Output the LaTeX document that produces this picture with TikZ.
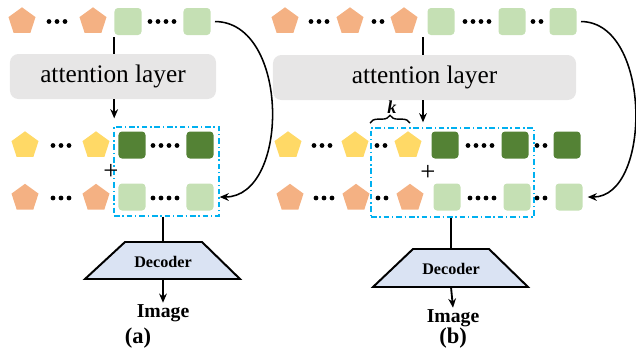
\documentclass[tikz,border=0pt]{standalone}
\usepackage{fontspec}
\setmainfont{Liberation Serif}
\usetikzlibrary{shapes.geometric,arrows.meta,decorations.pathreplacing}

\definecolor{tokorange}{HTML}{F4B183}
\definecolor{tokyellow}{HTML}{FFD966}
\definecolor{toklight}{HTML}{C5E0B4}
\definecolor{tokdark}{HTML}{548235}
\definecolor{attgray}{HTML}{E7E6E6}
\definecolor{decblue}{HTML}{DAE3F3}
\definecolor{boxcyan}{HTML}{00B0F0}

\tikzset{
    pent/.style={regular polygon, regular polygon sides=5, inner sep=0pt, minimum size=0.71cm},
    opent/.style={pent, fill=tokorange},
    ypent/.style={pent, fill=tokyellow},
    tok/.style={rounded corners=2.5pt, inner sep=0pt, minimum size=0.675cm},
    ltok/.style={tok, fill=toklight},
    dtok/.style={tok, fill=tokdark},
    attn/.style={fill=attgray, rounded corners=6pt, minimum height=1.125cm, font=\fontsize{18}{20}\selectfont},
    cbox/.style={draw=boxcyan, line width=0.9pt, dash pattern=on 4pt off 2pt on 1pt off 2pt, minimum height=2.225cm},
    decshape/.style={draw, line width=1.4pt, line join=miter, fill=decblue},
    dectext/.style={inner sep=1pt, font=\fontsize{11.5}{13}\selectfont\bfseries},
    conn/.style={line width=1.3pt},
    arr/.style={-{Stealth[length=6.5pt,width=5.5pt]}, line width=1.3pt},
    lbl/.style={inner sep=1pt, font=\fontsize{14}{16}\selectfont\bfseries},
    plus/.style={font=\fontsize{19}{20}\selectfont}
}

\begin{document}
\begin{tikzpicture}[x=0.025cm,y=-0.025cm]
    \useasboundingbox (0,0) rectangle (636,351);

    % (a)
    \node[opent] (pa1) at (22,21.5) {};
    \node[opent] (pa2) at (93,21.5) {};
    \node[ltok] (ta1) at (128,21.5) {};
    \node[ltok] (ta2) at (197,21.5) {};
    \node[attn, minimum width=5.15cm] (attna) at (113,76.5) {attention layer};
    \node[ypent] (ya1) at (25,145.5) {};
    \node[ypent] (ya2) at (96,145.5) {};
    \node[dtok] (da1) at (132,145) {};
    \node[dtok] (da2) at (200,145) {};
    \node[opent] (oa1) at (25,198) {};
    \node[opent] (oa2) at (96,198) {};
    \node[ltok] (la1) at (132,197) {};
    \node[ltok] (la2) at (200,197) {};
    \node[cbox, minimum width=2.625cm] (boxa) at (166.5,171.5) {};
    \node[plus] (plusa) at (111,172) {+};
    \draw[decshape] (125,242) -- (202,242) -- (240,279) -- (85,279) -- cycle;
    \coordinate (decatop) at (163,242);
    \coordinate (decabot) at (163,279);
    \node[dectext] (deca) at (163,261.5) {Decoder};
    \node[lbl] (imga) at (163,313) {Image};
    \node[lbl, font=\fontsize{16}{18}\selectfont\bfseries] (capa) at (138,338) {(a)};

    \draw[conn] ([yshift=-1.5pt]ta1.south west) -- (ta1.south west |- attna.north);
    \draw[arr] (attna.south -| ta1.west) -- ++(0,19);
    \draw[conn] (boxa.south -| decatop) -- (decatop);
    \draw[arr] (decabot) -- (imga.north);
    \draw[arr, line width=1.1pt, shorten <=3pt] (ta2.east) .. controls (290,22) and (290,197) .. (boxa.east |- la2.east);

    % (b)
    \node[opent] (pb1) at (285,21.5) {};
    \node[opent] (pb2) at (350,21.5) {};
    \node[opent] (pb3) at (404,21.5) {};
    \node[ltok] (tb1) at (441,21.5) {};
    \node[ltok] (tb2) at (512,21.5) {};
    \node[ltok] (tb3) at (563,21.5) {};
    \node[attn, minimum width=7.575cm] (attnb) at (424.5,77.5) {attention layer};
    \node[ypent] (yb1) at (288,145.5) {};
    \node[ypent] (yb2) at (355,145.5) {};
    \node[ypent] (yb3) at (408,145.5) {};
    \node[dtok] (db1) at (445,145) {};
    \node[dtok] (db2) at (515,145) {};
    \node[dtok] (db3) at (567,145) {};
    \node[opent] (ob1) at (290,198) {};
    \node[opent] (ob2) at (356,198) {};
    \node[opent] (ob3) at (410,198) {};
    \node[ltok] (lb1) at (447,197) {};
    \node[ltok] (lb2) at (517,197) {};
    \node[ltok] (lb3) at (569,197) {};
    \node[cbox, minimum width=4.075cm] (boxb) at (452.5,172.5) {};
    \node[plus] (plusb) at (428,172.5) {+};
    \draw[line width=1pt, decorate, decoration={brace, amplitude=5.5pt}] (370,123) -- (410,123);
    \node[font=\fontsize{13}{15}\selectfont\bfseries\itshape] (kb) at (392,107) {k};
    \draw[decshape] (413,249) -- (489,249) -- (528,287) -- (373,287) -- cycle;
    \coordinate (decbtop) at (451,249);
    \coordinate (decbbot) at (451,287);
    \node[dectext] (decb) at (451,269) {Decoder};
    \node[lbl] (imgb) at (453,318) {Image};
    \node[lbl, font=\fontsize{16}{18}\selectfont\bfseries] (capb) at (453,338) {(b)};

    \coordinate (cutb) at (423,0);
    \draw[conn] (cutb |- tb1.south) ++(0,2) -- (cutb |- attnb.north);
    \draw[arr] (cutb |- attnb.south) -- ++(0,22);
    \draw[conn] (boxb.south -| decbtop) -- (decbtop);
    \draw[arr] (decbbot) -- (imgb.north);
    \draw[arr, line width=1.1pt, shorten <=3pt] (tb3.east) .. controls (652,22) and (652,197) .. ([xshift=3.5pt]lb3.east);

    % token dots
    \foreach \cx/\cy/\n in {57/21.5/3, 162/21.5/4, 61/145.5/3, 165/145.5/4, 61/198/3, 165/198/4,
        319/21.5/3, 378/21.5/2, 477/21.5/4, 537/21.5/2, 322/145.5/3, 381/145.5/2, 480/145.5/4, 541/145.5/2,
        324/198/3, 382/198/2, 482/198/4, 541/198/2}
        \foreach \i in {1,...,\n} \fill (\cx+8*\i-4*\n-4,\cy) circle (2.4);

\end{tikzpicture}
\end{document}
